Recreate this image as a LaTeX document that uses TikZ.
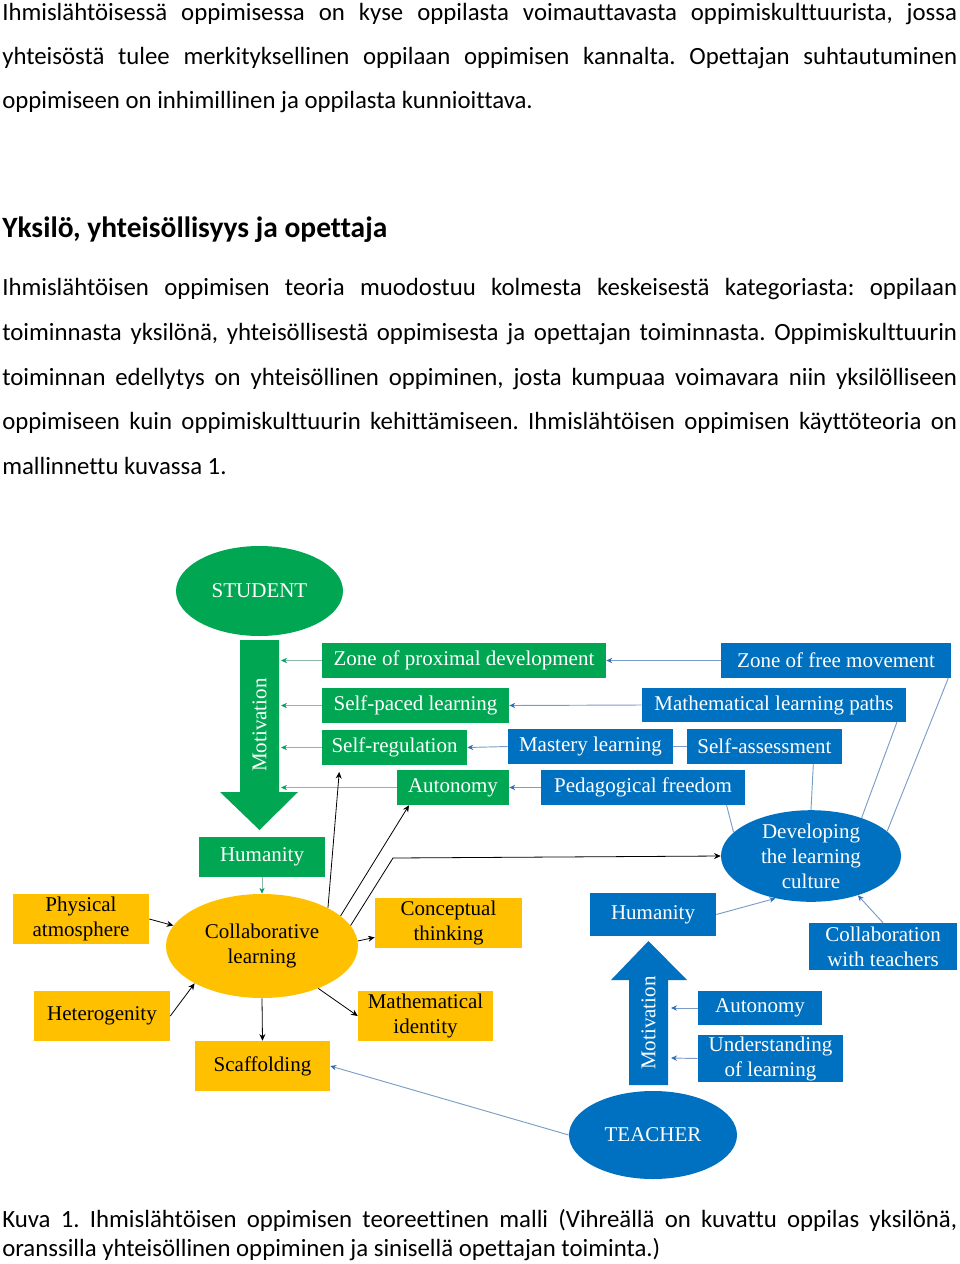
\documentclass[tikz,border=0pt]{standalone}
\usepackage{fontspec}
\setmainfont{Carlito}[Ligatures={NoCommon}]
\newfontfamily\diagfont{Liberation Serif}
\usetikzlibrary{arrows.meta,shapes.geometric}
\definecolor{gr}{HTML}{00A651}
\definecolor{bl}{HTML}{0070C0}
\definecolor{og}{HTML}{FFC000}
\definecolor{gline}{HTML}{8DB5A8}
\definecolor{ghead}{HTML}{00A060}
\definecolor{bline}{HTML}{7A9CC6}
\definecolor{bhead}{HTML}{2E6DB4}
\frenchspacing
\tikzset{
  bodytext/.style={anchor=base west, inner sep=0pt, font=\fontsize{18.6}{22}\selectfont},
  headtext/.style={anchor=base west, inner sep=0pt, font=\bfseries\fontsize{22.1}{26}\selectfont},
  box/.style n args={2}{rectangle, minimum width=#1*0.75pt, minimum height=#2*0.75pt, inner sep=0pt, font=\diagfont\fontsize{15.75}{18.75}\selectfont, align=center},
  ell/.style n args={2}{ellipse, minimum width=#1*0.75pt, minimum height=#2*0.75pt, inner sep=0pt, font=\diagfont\fontsize{15.75}{18.75}\selectfont, align=center},
  gbox/.style={fill=gr, text=white},
  bbox/.style={fill=bl, text=white},
  obox/.style={fill=og, text=black},
  garr/.style={draw=gline, line width=0.7pt, -{Stealth[length=4.5pt,width=4pt,color=ghead]}},
  barr/.style={draw=bline, line width=0.7pt, -{Stealth[length=4.5pt,width=4pt,color=bhead]}},
  bline/.style={draw=bline, line width=0.7pt},
  karr/.style={draw=black, line width=0.6pt, -{Stealth[length=5pt,width=4.5pt]}},
  motiv/.style={rotate=90, text=white, inner sep=0pt, font=\diagfont\fontsize{15.75}{18}\selectfont}
}
\begin{document}
\begin{tikzpicture}[x=0.75pt,y=-0.75pt]
\useasboundingbox (0,0) rectangle (960,1264);

% ---------- text ----------
\node[bodytext] (p1a) at (2,20) {\makebox[716.25pt][s]{Ihmislähtöisessä oppimisessa on kyse oppilasta voimauttavasta oppimiskulttuurista, jossa}};
\node[bodytext] (p1b) at (2,64) {\makebox[716.25pt][s]{yhteisöstä tulee merkityksellinen oppilaan oppimisen kannalta. Opettajan suhtautuminen}};
\node[bodytext] (p1c) at (2,108) {oppimiseen on inhimillinen ja oppilasta kunnioittava.};

\node[headtext] (head) at (2,237) {Yksilö, yhteisöllisyys ja opettaja};

\node[bodytext] (p2a) at (2,295) {\makebox[716.25pt][s]{Ihmislähtöisen oppimisen teoria muodostuu kolmesta keskeisestä kategoriasta: oppilaan}};
\node[bodytext] (p2b) at (2,340) {\makebox[716.25pt][s]{toiminnasta yksilönä, yhteisöllisestä oppimisesta ja opettajan toiminnasta. Oppimiskulttuurin}};
\node[bodytext] (p2c) at (2,385) {\makebox[716.25pt][s]{toiminnan edellytys on yhteisöllinen oppiminen, josta kumpuaa voimavara niin yksilölliseen}};
\node[bodytext] (p2d) at (2,429) {\makebox[716.25pt][s]{oppimiseen kuin oppimiskulttuurin kehittämiseen. Ihmislähtöisen oppimisen käyttöteoria on}};
\node[bodytext] (p2e) at (2,474) {mallinnettu kuvassa 1.};

\node[bodytext] (c1) at (2,1227) {\makebox[716.25pt][s]{Kuva 1. Ihmislähtöisen oppimisen teoreettinen malli (Vihreällä on kuvattu oppilas yksilönä,}};
\node[bodytext] (c2) at (2,1256) {oranssilla yhteisöllinen oppiminen ja sinisellä opettajan toiminta.)};

% ---------- big arrows ----------
\fill[gr] (240,640) -- (279,640) -- (279,792) -- (298,792) -- (259.5,830) -- (220,792) -- (240,792) -- cycle;
\node[motiv] (motS) at (259.5,725) {Motivation};
\fill[bl] (629,1085) -- (668,1085) -- (668,980) -- (687,980) -- (648.5,941) -- (611,980) -- (629,980) -- cycle;
\node[motiv] (motT) at (648.5,1023) {Motivation};

\coordinate (s1) at (281,660.5);
\coordinate (s2) at (281,705.5);
\coordinate (s3) at (281,747.5);
\coordinate (s4) at (281,787.5);
\coordinate (t1) at (671,1008);
\coordinate (t2) at (671,1058);
\coordinate (bend) at (393,858);

% ---------- nodes ----------
\node[ell={167}{90}, fill=gr, text=white] (student) at (259.5,591) {STUDENT};
\node[ell={192}{104}, fill=og] (collab) at (262,946) {Collaborative\\learning};
\node[ell={180}{82}, fill=bl, text=white] (dev) at (811,856) {Developing\\the learning\\culture};
\node[ell={168}{88}, fill=bl, text=white] (teacher) at (653,1135) {TEACHER};

\node[box={284}{35}, gbox] (zpd) at (464,660.5) {Zone of proximal development};
\node[box={187}{35}, gbox] (spl) at (415.5,705.5) {Self-paced learning};
\node[box={145}{35}, gbox] (sreg) at (394.5,747.5) {Self-regulation};
\node[box={112}{35}, gbox] (autg) at (453,787.5) {Autonomy};
\node[box={126}{40}, gbox] (humg) at (262,857) {Humanity};

\node[box={230}{35}, bbox] (zfm) at (836,660.5) {Zone of free movement};
\node[box={264}{34}, bbox] (mlp) at (774,705) {Mathematical learning paths};
\node[box={165}{35}, bbox] (mast) at (590.5,746.5) {Mastery learning};
\node[box={155}{35}, bbox] (sass) at (764.5,746.5) {Self-assessment};
\node[box={204}{35}, bbox] (pedf) at (643,787.5) {Pedagogical freedom};
\node[box={126}{43}, bbox] (humb) at (653,914.5) {Humanity};
\node[box={148}{47}, bbox] (cwt) at (883,946.5) {Collaboration\\with teachers};
\node[box={124}{34}, bbox] (autb) at (760,1008) {Autonomy};
\node[box={145}{47}, bbox] (uol) at (770.5,1058.5) {Understanding\\of learning};

\node[box={136}{50}, obox] (phys) at (81,919) {Physical\\atmosphere};
\node[box={136}{50}, obox] (het) at (102,1016) {Heterogenity};
\node[box={135}{50}, obox] (scaf) at (262.5,1066) {Scaffolding};
\node[box={147}{50}, obox] (conc) at (448.5,923) {Conceptual\\thinking};
\node[box={135}{50}, obox] (mid) at (425.5,1016) {Mathematical\\identity};

% ---------- connectors ----------
\draw[garr] (zpd.west) -- (s1);
\draw[garr] (spl.west) -- (s2);
\draw[garr] (sreg.west) -- (s3);
\draw[garr] (autg.west) -- (s4);
\draw[garr] (humg.south) -- (collab.north);

\draw[barr] (zfm.west) -- (zpd.east);
\draw[barr] (mlp.west) -- (spl.east);
\draw[barr] (mast.west) -- (sreg.east);
\draw[bline] (sass.west) -- (mast.east);
\draw[barr] (pedf.west) -- (autg.east);

\draw[bline] (pedf.-12.5) -- (dev.163);
\draw[bline] (sass.-20.6) -- (dev.north);
\draw[bline] (mlp.-8.9) -- (dev.37);
\draw[bline] (zfm.-9.6) -- (dev.18);

\draw[barr] (humb.east) -- (dev.230);
\draw[barr] (cwt.north) -- (dev.320);
\draw[barr] (autb.west) -- (t1);
\draw[barr] (uol.west) -- (t2);
\draw[barr] (teacher.west) -- (scaf.east);

\draw[karr] (phys.east) -- (collab.167);
\draw[karr] (het.east) -- (collab.209);
\draw[karr] (collab.3) -- (conc.191);
\draw[karr] (collab.-37) -- (mid.west);
\draw[karr] (collab.south) -- (scaf.north);
\draw[karr, shorten >=5pt] (collab.30) -- (sreg.-162.8);
\draw[karr] (collab.21) -- (autg.202);
\draw[karr] (collab.13) -- (bend) -- (dev.west);
\end{tikzpicture}
\end{document}
